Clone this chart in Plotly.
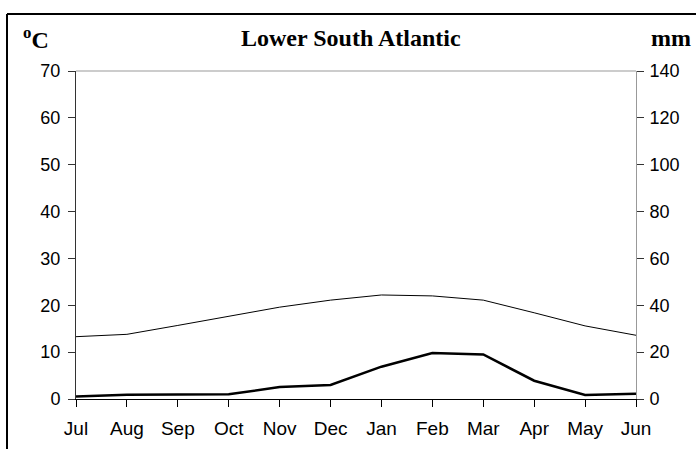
import plotly.graph_objects as go

months = ["Jul", "Aug", "Sep", "Oct", "Nov", "Dec", "Jan", "Feb", "Mar", "Apr", "May", "Jun"]
temperature_c = [13.3, 13.8, 15.7, 17.7, 19.6, 21.1, 22.2, 22.0, 21.1, 18.4, 15.6, 13.6]
precip_mm = [1.1, 1.8, 1.9, 2.0, 5.1, 6.0, 13.8, 19.6, 19.0, 7.8, 1.7, 2.2]
left_ticks = [0, 10, 20, 30, 40, 50, 60, 70]
right_ticks = [0, 20, 40, 60, 80, 100, 120, 140]

x = list(range(len(months)))

fig = go.Figure()
fig.add_trace(go.Scatter(x=x, y=temperature_c, mode="lines",
                         line=dict(color="black", width=1), yaxis="y", showlegend=False))
fig.add_trace(go.Scatter(x=x, y=precip_mm, mode="lines",
                         line=dict(color="black", width=2.5), yaxis="y2", showlegend=False))

tickfont = dict(family="Arial, Liberation Sans", size=18, color="black")
monthfont = dict(family="Arial, Liberation Sans", size=19, color="black")
serif = dict(family="Liberation Serif, Times New Roman", size=24, color="black")

PL, PR, PT, PB = 76, 636, 71, 399
W, H = PR - PL, PB - PT


def px(v):
    return (v - PL) / W


def py(v):
    return (PB - v) / H


fig.update_layout(
    width=696, height=449,
    margin=dict(l=PL, r=696 - PR, t=PT, b=449 - PB, autoexpand=False),
    paper_bgcolor="white", plot_bgcolor="white",
    xaxis=dict(range=[0, 11], tickvals=x, ticktext=months, showgrid=False, zeroline=False,
               showline=True, linecolor="black", linewidth=1, ticks="outside", ticklen=7,
               tickcolor="black", tickfont=monthfont, ticklabelstandoff=5),
    yaxis=dict(range=[0, 70], tickvals=left_ticks, showgrid=False, zeroline=False,
               showline=True, linecolor="#333333", linewidth=1, ticks="outside", ticklen=7,
               tickcolor="#333333", tickfont=tickfont, ticklabelstandoff=4),
    yaxis2=dict(range=[0, 140], tickvals=right_ticks, overlaying="y", side="right",
                showgrid=False, zeroline=False, showline=True, linecolor="#999999", linewidth=1,
                ticks="outside", ticklen=7, tickcolor="#333333", tickfont=tickfont,
                ticklabelstandoff=2),
    shapes=[
        dict(type="line", xref="paper", yref="paper", x0=0, x1=1, y0=1, y1=1,
             line=dict(color="#999999", width=1), layer="below"),
        dict(type="line", xref="paper", yref="paper", x0=px(7), x1=px(700), y0=py(14), y1=py(14),
             line=dict(color="black", width=2)),
        dict(type="line", xref="paper", yref="paper", x0=px(7), x1=px(7), y0=py(14), y1=py(460),
             line=dict(color="black", width=2)),
    ],
    annotations=[
        dict(text="<b>Lower South Atlantic</b>", xref="paper", yref="paper", x=px(351), y=py(38),
             showarrow=False, xanchor="center", yanchor="middle", font=serif),
        dict(text="<b><sup>o</sup>C</b>", xref="paper", yref="paper", x=px(21), y=py(38),
             showarrow=False, xanchor="left", yanchor="middle", font=serif),
        dict(text="<b>mm</b>", xref="paper", yref="paper", x=px(693), y=py(38),
             showarrow=False, xanchor="right", yanchor="middle", font=serif),
    ],
)

fig.write_html("out.html", config={"displayModeBar": False})

with open("out.html", encoding="utf-8") as f:
    html = f.read()
html = html.replace("<head>", "<head><style>html,body{margin:0;padding:0;overflow:hidden}</style>", 1)
with open("out.html", "w", encoding="utf-8") as f:
    f.write(html)
